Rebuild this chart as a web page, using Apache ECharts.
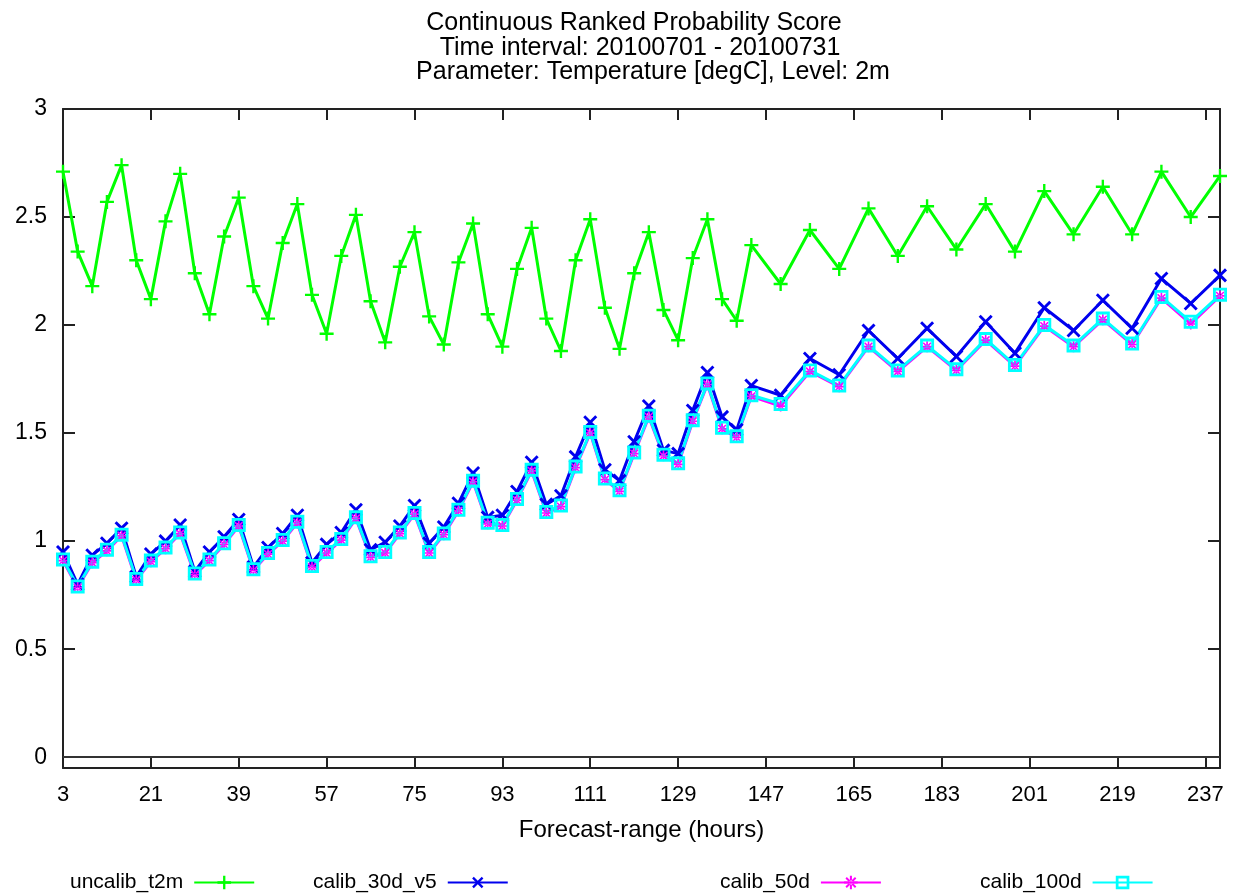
<!DOCTYPE html>
<html>
<head>
<meta charset="utf-8">
<script src="https://cdn.jsdelivr.net/npm/echarts@6/dist/echarts.min.js"></script>
<style>
html,body{margin:0;padding:0;background:#fff;}
#chart{width:1243px;height:895px;}
</style>
</head>
<body>
<div id="chart"></div>
<script>
// Forecast range (hours)
var hours = [3,6,9,12,15,18,21,24,27,30,33,36,39,42,45,48,51,54,57,60,63,66,69,72,75,78,81,84,87,90,93,96,99,102,105,108,111,114,117,120,123,126,129,132,135,138,141,144,150,156,162,168,174,180,186,192,198,204,210,216,222,228,234,240];

var uncalib_t2m = [2.71,2.34,2.18,2.57,2.74,2.30,2.12,2.48,2.70,2.24,2.05,2.41,2.59,2.18,2.03,2.38,2.56,2.14,1.96,2.32,2.51,2.11,1.92,2.27,2.43,2.04,1.91,2.29,2.47,2.05,1.90,2.26,2.45,2.03,1.88,2.30,2.49,2.08,1.89,2.24,2.43,2.07,1.93,2.31,2.49,2.12,2.02,2.37,2.19,2.44,2.26,2.54,2.32,2.55,2.35,2.56,2.34,2.62,2.42,2.64,2.42,2.71,2.50,2.69];

var calib_30d_v5 = [0.95,0.80,0.935,0.99,1.06,0.835,0.94,1.00,1.075,0.86,0.95,1.02,1.10,0.88,0.97,1.035,1.12,0.90,0.985,1.04,1.145,0.96,0.995,1.07,1.165,0.99,1.065,1.175,1.315,1.11,1.12,1.23,1.365,1.17,1.21,1.39,1.55,1.33,1.28,1.46,1.625,1.42,1.405,1.605,1.78,1.575,1.515,1.72,1.675,1.845,1.77,1.975,1.845,1.985,1.855,2.015,1.87,2.08,1.975,2.115,1.985,2.215,2.10,2.23];

var calib_50d = [0.91,0.785,0.90,0.955,1.025,0.82,0.905,0.965,1.035,0.845,0.91,0.985,1.07,0.865,0.94,1.00,1.085,0.88,0.945,1.005,1.105,0.925,0.945,1.035,1.125,0.945,1.03,1.14,1.275,1.08,1.07,1.19,1.325,1.13,1.16,1.34,1.50,1.285,1.23,1.405,1.575,1.395,1.355,1.555,1.725,1.52,1.48,1.67,1.625,1.785,1.715,1.90,1.785,1.90,1.79,1.93,1.81,1.995,1.90,2.025,1.91,2.125,2.005,2.135];

var calib_100d = [0.915,0.79,0.905,0.96,1.03,0.825,0.91,0.97,1.04,0.85,0.915,0.99,1.075,0.87,0.945,1.005,1.09,0.885,0.95,1.01,1.11,0.93,0.95,1.04,1.13,0.95,1.035,1.145,1.28,1.085,1.075,1.195,1.33,1.135,1.165,1.345,1.505,1.29,1.235,1.41,1.58,1.40,1.36,1.56,1.73,1.525,1.485,1.675,1.635,1.79,1.72,1.905,1.79,1.905,1.795,1.935,1.815,2.00,1.905,2.03,1.915,2.13,2.015,2.14];

var xTicks = [3,21,39,57,75,93,111,129,147,165,183,201,219,237];
var yTicks = [0,0.5,1,1.5,2,2.5,3];

var titleLines = ['Continuous Ranked Probability Score','Time interval: 20100701 - 20100731','Parameter: Temperature [degC], Level: 2m'];
var seriesNames = ['uncalib_t2m','calib_30d_v5','calib_50d','calib_100d'];

function pairs(vals){ return hours.map(function(h,i){ return [h, vals[i]]; }); }

var FONT = 'Liberation Sans';
var PLUS = 'path://M-0.17,-1 L0.17,-1 L0.17,-0.17 L1,-0.17 L1,0.17 L0.17,0.17 L0.17,1 L-0.17,1 L-0.17,0.17 L-1,0.17 L-1,-0.17 L-0.17,-0.17 Z';
var STAR = 'path://M-0.15,-1 L0.15,-1 L0.15,-0.15 L1,-0.15 L1,0.15 L0.15,0.15 L0.15,1 L-0.15,1 L-0.15,0.15 L-1,0.15 L-1,-0.15 L-0.15,-0.15 Z M-0.8,-0.6 L0.6,0.8 L0.8,0.6 L-0.6,-0.8 Z M0.6,-0.8 L-0.8,0.6 L-0.6,0.8 L0.8,-0.6 Z';
var SQUARE = 'path://M-1,-1 L1,-1 L1,1 L-1,1 Z M-0.6,-0.6 L-0.6,0.6 L0.6,0.6 L0.6,-0.6 Z';
var colors = ['#00ff00','#0000ee','#ff00ff','#00ffff'];

var frame = {color:'#222', width:2};

function mkLegend(name, left){
  return {
    data:[name], left:left, top:872, orient:'horizontal', align:'right',
    itemWidth:60, itemHeight:17, padding:0,
    textStyle:{fontFamily:FONT, fontSize:21, color:'#000', padding:[0,6,0,0]},
    selectedMode:false
  };
}

var titleStyle = {fontFamily:FONT, fontSize:25, fontWeight:'normal', color:'#000'};

var chart = echarts.init(document.getElementById('chart'), null, {renderer:'canvas'});
chart.setOption({
  animation:false,
  backgroundColor:'#fff',
  title:[
    {text:titleLines[0], left:634, top:11, textAlign:'center', padding:0, textStyle:titleStyle},
    {text:titleLines[1], left:640, top:36, textAlign:'center', padding:0, textStyle:titleStyle},
    {text:titleLines[2], left:653, top:60, textAlign:'center', padding:0, textStyle:titleStyle}
  ],
  legend:[mkLegend(seriesNames[0],70), mkLegend(seriesNames[1],313), mkLegend(seriesNames[2],720), mkLegend(seriesNames[3],980)],
  grid:{left:63, right:23, top:109, bottom:127, containLabel:false},
  xAxis:[
    {type:'value', min:3, max:240, position:'bottom',
     name:'Forecast-range (hours)', nameLocation:'middle', nameGap:50,
     nameTextStyle:{fontFamily:FONT, fontSize:24, color:'#000'},
     axisLine:{show:true, onZero:false, lineStyle:frame},
     axisTick:{show:true, inside:true, length:11, customValues:xTicks, lineStyle:frame},
     axisLabel:{show:true, customValues:xTicks, fontFamily:FONT, fontSize:22, color:'#000', margin:16},
     splitLine:{show:false}},
    {type:'value', min:3, max:240, position:'top',
     axisLine:{show:true, onZero:false, lineStyle:frame},
     axisTick:{show:true, inside:true, length:11, customValues:xTicks, lineStyle:frame},
     axisLabel:{show:false},
     splitLine:{show:false}}
  ],
  yAxis:[
    {type:'value', min:-0.05, max:3, position:'left',
     axisLine:{show:true, onZero:false, lineStyle:frame},
     axisTick:{show:true, inside:true, length:12, customValues:yTicks, lineStyle:frame},
     axisLabel:{show:true, customValues:yTicks, fontFamily:FONT, fontSize:23, color:'#000', margin:16},
     splitLine:{show:false}},
    {type:'value', min:-0.05, max:3, position:'right',
     axisLine:{show:true, onZero:false, lineStyle:frame},
     axisTick:{show:true, inside:true, length:12, customValues:yTicks, lineStyle:frame},
     axisLabel:{show:false},
     splitLine:{show:false}}
  ],
  series:[
    {name:seriesNames[0], type:'line', data:pairs(uncalib_t2m), color:colors[0],
     symbol:PLUS, symbolSize:14, lineStyle:{width:3, color:colors[0]}, itemStyle:{color:colors[0]},
     markLine:{silent:true, symbol:'none', label:{show:false}, lineStyle:{color:'#333', width:2, type:'solid'}, data:[{yAxis:0}]}},
    {name:seriesNames[1], type:'line', data:pairs(calib_30d_v5), color:colors[1],
     symbol:PLUS, symbolRotate:45, symbolSize:17, lineStyle:{width:3, color:colors[1]}, itemStyle:{color:colors[1]}},
    {name:seriesNames[2], type:'line', data:pairs(calib_50d), color:colors[2],
     symbol:STAR, symbolSize:11, lineStyle:{width:3, color:colors[2]}, itemStyle:{color:colors[2]}},
    {name:seriesNames[3], type:'line', data:pairs(calib_100d), color:colors[3],
     symbol:SQUARE, symbolSize:14, lineStyle:{width:3, color:colors[3]}, itemStyle:{color:colors[3]}}
  ]
});
</script>
</body>
</html>
